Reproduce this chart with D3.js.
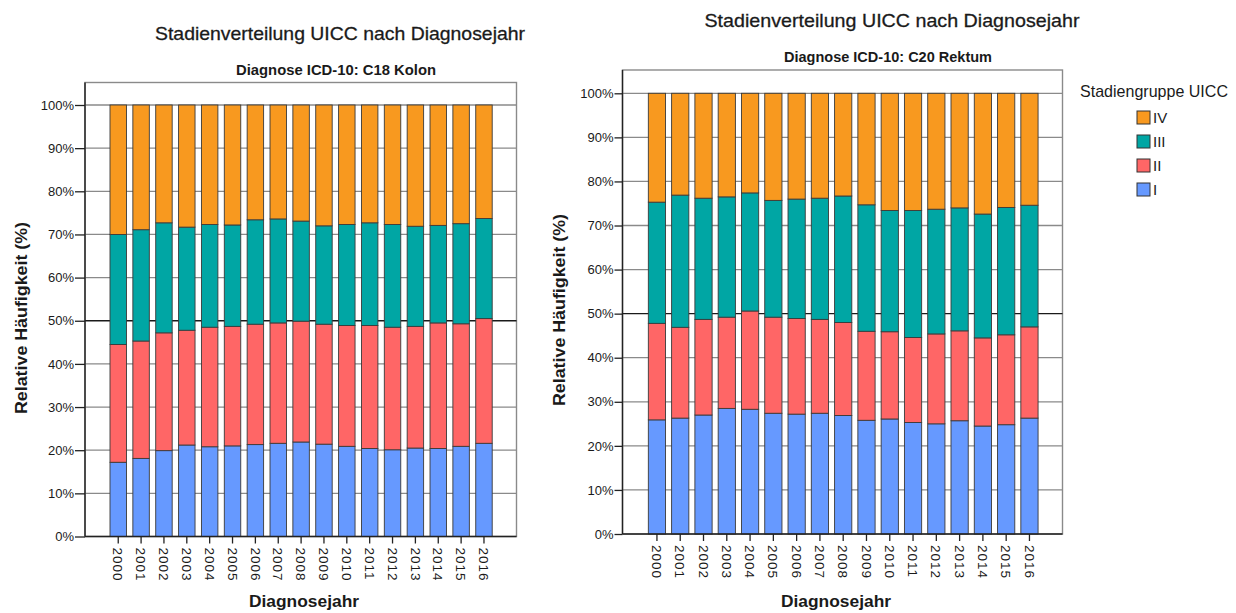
<!DOCTYPE html>
<html>
<head>
<meta charset="utf-8">
<script src="https://cdn.jsdelivr.net/npm/d3@7"></script>
<style>
  body { margin: 0; background: #fff; }
  svg { display: block; }
  text { font-family: "Liberation Sans", Arial, sans-serif; fill: #1a1a1a; }
</style>
</head>
<body>
<svg id="chart" width="1236" height="613"></svg>
<script>
// ---- data (percent per UICC stage) ----
const years = ["2000","2001","2002","2003","2004","2005","2006","2007","2008",
               "2009","2010","2011","2012","2013","2014","2015","2016"]
const stages = ["I","II","III","IV"]
const stageColors = ["#6699ff","#ff6666","#00a6a4","#f8991f"]
const yTicks = [0,10,20,30,40,50,60,70,80,90,100]

// C18 Kolon
const kolonI   = [17.2,18.1,19.9,21.2,20.8,21.0,21.3,21.6,21.9,21.4,20.9,20.4,20.1,20.5,20.4,20.9,21.6]
const kolonII  = [27.3,27.2,27.3,26.6,27.7,27.7,27.9,27.9,28.0,27.8,28.0,28.5,28.4,28.2,29.1,28.4,28.9]
const kolonIII = [25.5,25.8,25.5,23.9,23.8,23.5,24.2,24.1,23.2,22.8,23.4,23.8,23.8,23.2,22.6,23.2,23.2]
const kolonIV  = [30.0,28.9,27.3,28.3,27.7,27.8,26.6,26.4,26.9,28.0,27.7,27.3,27.7,28.1,27.9,27.5,26.3]

// C20 Rektum
const rektumI   = [25.9,26.3,27.0,28.5,28.3,27.4,27.2,27.4,26.9,25.8,26.1,25.3,25.0,25.7,24.5,24.8,26.3]
const rektumII  = [21.9,20.6,21.7,20.7,22.3,21.8,21.7,21.3,21.1,20.2,19.8,19.3,20.4,20.4,20.0,20.4,20.7]
const rektumIII = [27.5,30.0,27.5,27.3,26.8,26.5,27.1,27.5,28.7,28.7,27.5,28.8,28.3,27.9,28.1,28.9,27.6]
const rektumIV  = [24.7,23.1,23.8,23.5,22.6,24.3,24.0,23.8,23.3,25.3,26.6,26.6,26.3,26.0,27.4,25.9,25.4]

const svg = d3.select("#chart")
const color = d3.scaleOrdinal().domain(stages).range(stageColors)

// squeeze a text to the width measured on the picture
function fit(sel, w){
  sel.attr("textLength", w).attr("lengthAdjust", "spacingAndGlyphs")
  return sel
}

function drawPanel(cfg){
  const g = svg.append("g")

  const rows = years.map((yr,i)=>{
    const r = {year: yr}
    stages.forEach((s,k)=> r[s] = cfg.values[k][i])
    return r
  })
  const series = d3.stack().keys(stages)(rows)

  const x = d3.scaleBand().domain(years)
      .range([cfg.r0, cfg.r1]).paddingInner(cfg.pi).paddingOuter(cfg.po)
  const y = d3.scaleLinear().domain([0,100]).range([cfg.y0, cfg.y100])

  // frame
  g.append("rect")
    .attr("x", cfg.axisX).attr("y", cfg.top)
    .attr("width", cfg.right - cfg.axisX).attr("height", cfg.y0 - cfg.top)
    .attr("fill","none").attr("stroke","#8a8a8a").attr("stroke-width",1.4)

  // grid lines
  g.selectAll("line.grid").data(yTicks.filter(d=>d>0)).join("line")
    .attr("class","grid")
    .attr("x1", cfg.axisX).attr("x2", cfg.right)
    .attr("y1", d=>y(d)).attr("y2", d=>y(d))
    .attr("stroke", d=> d===50 ? "#1a1a1a" : "#8a8a8a")
    .attr("stroke-width", 1.3)

  // stacked bars
  g.selectAll("g.layer").data(series).join("g")
    .attr("class","layer")
    .attr("fill", d=>color(d.key))
    .selectAll("rect").data(d=>d).join("rect")
      .attr("x", d=>x(d.data.year))
      .attr("width", x.bandwidth())
      .attr("y", d=>y(d[1]))
      .attr("height", d=>y(d[0]) - y(d[1]))
      .attr("stroke","#3a3a3a").attr("stroke-width",0.9)

  // y axis
  const yAxis = g.append("g")
    .attr("transform", `translate(${cfg.axisX},0)`)
    .call(d3.axisLeft(y).tickValues(yTicks).tickFormat(d=>d+"%").tickSize(cfg.tick).tickPadding(1).tickSizeOuter(0))
  yAxis.select(".domain").remove()
  yAxis.selectAll(".tick line").attr("stroke","#222").attr("stroke-width",1.3)
  yAxis.selectAll(".tick text")
    .style("font-family",'"Liberation Sans", Arial, sans-serif')
    .style("font-size","13px").attr("fill","#2a2a2a")
  g.append("line")
    .attr("x1", cfg.axisX).attr("x2", cfg.axisX)
    .attr("y1", cfg.top).attr("y2", cfg.y0)
    .attr("stroke","#222").attr("stroke-width",1.4)

  // x axis
  const xAxis = g.append("g")
    .attr("transform", `translate(0,${cfg.y0})`)
    .call(d3.axisBottom(x).tickSize(7).tickSizeOuter(0))
  xAxis.select(".domain").remove()
  xAxis.selectAll(".tick line").attr("stroke","#222").attr("stroke-width",1.3)
  xAxis.selectAll(".tick text")
    .attr("transform","rotate(90)")
    .attr("x", 11).attr("y", 0).attr("dy","0.36em")
    .attr("text-anchor","start")
    .style("font-family",'"Liberation Sans", Arial, sans-serif')
    .style("font-size","13.5px").attr("fill","#2a2a2a")
    .attr("letter-spacing","1px")
  g.append("line")
    .attr("x1", cfg.axisX).attr("x2", cfg.right)
    .attr("y1", cfg.y0).attr("y2", cfg.y0)
    .attr("stroke","#222").attr("stroke-width",1.4)

  // titles
  fit(g.append("text")
    .attr("x", cfg.titleX).attr("y", cfg.titleY)
    .attr("text-anchor","middle")
    .style("font-size","19px")
    .attr("stroke","#1a1a1a").attr("stroke-width",0.3)
    .text("Stadienverteilung UICC nach Diagnosejahr"), cfg.titleW)

  fit(g.append("text")
    .attr("x", cfg.subX).attr("y", cfg.subY)
    .attr("text-anchor","middle")
    .style("font-size","15px").style("font-weight","bold")
    .text(cfg.subtitle), cfg.subW)

  fit(g.append("text")
    .attr("transform", `translate(${cfg.ytX},${cfg.ytY}) rotate(-90)`)
    .attr("text-anchor","middle")
    .style("font-size","17px").style("font-weight","bold")
    .text("Relative Häufigkeit (%)"), 192)

  fit(g.append("text")
    .attr("x", cfg.xtX).attr("y", 607)
    .attr("text-anchor","middle")
    .style("font-size","17px").style("font-weight","bold")
    .text("Diagnosejahr"), 110)
}

drawPanel({
  values: [kolonI, kolonII, kolonIII, kolonIV],
  subtitle: "Diagnose ICD-10: C18 Kolon",
  axisX: 85, right: 516.5, top: 82.5, y100: 105, y0: 536.5,
  r0: 106.8, r1: 495.4, pi: 0.28, po: 0.14, tick: 10,
  titleX: 340, titleY: 40, titleW: 370,
  subX: 336, subY: 75, subW: 200,
  ytX: 27, ytY: 318, xtX: 304
})

drawPanel({
  values: [rektumI, rektumII, rektumIII, rektumIV],
  subtitle: "Diagnose ICD-10: C20 Rektum",
  axisX: 622.5, right: 1062.5, top: 70, y100: 93.3, y0: 534,
  r0: 645.3, r1: 1041.1, pi: 0.26, po: 0.13, tick: 8,
  titleX: 892, titleY: 27, titleW: 375,
  subX: 888, subY: 62, subW: 208,
  ytX: 565, ytY: 310, xtX: 836
})

// legend
const legend = svg.append("g").attr("transform","translate(1080,0)")
fit(legend.append("text")
  .attr("x", 0).attr("y", 97)
  .style("font-size","17px").attr("fill","#333")
  .text("Stadiengruppe UICC"), 148)

const legendItems = stages.slice().reverse()
const ly = d3.scaleBand().domain(legendItems).range([107, 203])
const item = legend.selectAll("g.item").data(legendItems).join("g")
  .attr("class","item")
  .attr("transform", d=>`translate(57,${ly(d)})`)
item.append("rect")
  .attr("width", 13).attr("height", 13).attr("y", 4)
  .attr("fill", d=>color(d))
  .attr("stroke","#333").attr("stroke-width",1)
item.append("text")
  .attr("x", 16).attr("y", 10.5).attr("dy","0.36em")
  .style("font-size","15px").attr("fill","#333")
  .text(d=>d)
</script>
</body>
</html>
